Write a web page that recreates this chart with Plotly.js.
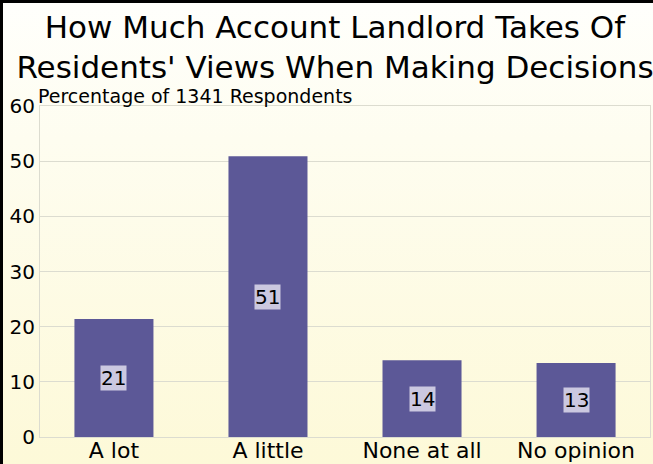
<!DOCTYPE html>
<html>
<head>
<meta charset="utf-8">
<script src="https://cdn.plot.ly/plotly-3.0.1.min.js"></script>
<style>
  html, body { margin: 0; padding: 0; }
  #wrap { position: relative; width: 653px; height: 464px; overflow: hidden;
          background: linear-gradient(to bottom, #fffffc 0%, #fefdf0 30%, #fdf9d8 100%); }
  #chart { position: absolute; left: 0; top: 0; width: 653px; height: 464px; }
  .bl { position: absolute; left: 0; top: 0; width: 3px; height: 464px; background: #000; }
  .bt { position: absolute; left: 0; top: 0; width: 653px; height: 3px; background: #000; }
</style>
</head>
<body>
<div id="wrap">
  <div id="chart"></div>
  <div class="bl"></div>
  <div class="bt"></div>
</div>
<script>
const categories = ["A lot", "A little", "None at all", "No opinion"];
const values = [21.4, 50.9, 13.9, 13.4];
const valueLabels = ["21", "51", "14", "13"];
const yTicks = [0, 10, 20, 30, 40, 50, 60];
const titleText = "How Much Account Landlord Takes Of<br>Residents' Views When Making Decisions";
const yLabel = "Percentage of 1341 Respondents";

const FONT = "DejaVu Sans, sans-serif";

const trace = {
  type: "bar",
  x: categories,
  y: values,
  marker: { color: "#5c5897", line: { width: 0 } },
  hoverinfo: "skip"
};

const annotations = categories.map((c, i) => ({
  x: c, y: values[i] / 2, xref: "x", yref: "y",
  text: valueLabels[i], showarrow: false,
  font: { family: FONT, size: 20, color: "#000" },
  bgcolor: "#cbc8e0", borderpad: 0
}));
annotations.push({
  x: 0, y: 1, xref: "paper", yref: "paper", xanchor: "left", yanchor: "bottom",
  xshift: -4, yshift: -3,
  text: yLabel, showarrow: false,
  font: { family: FONT, size: 19, color: "#000" }
});

const layout = {
  width: 653, height: 464,
  margin: { l: 40, r: 3, t: 106, b: 27, pad: 0 },
  paper_bgcolor: "rgba(0,0,0,0)",
  plot_bgcolor: "rgba(0,0,0,0)",
  showlegend: false,
  bargap: 0.487,
  title: {
    text: titleText,
    font: { family: FONT, size: 31, color: "#000" },
    x: 0.513, xref: "container", xanchor: "center",
    y: 0.918, yref: "container", yanchor: "top"
  },
  xaxis: {
    type: "category",
    range: [-0.48, 3.48],
    tickfont: { family: FONT, size: 22, color: "#000" },
    showgrid: false, zeroline: false,
    showline: true, linecolor: "#dcdcd0", linewidth: 1, mirror: true,
    ticks: "", ticklabelstandoff: -6, fixedrange: true
  },
  yaxis: {
    range: [0, 60],
    tickvals: yTicks,
    ticktext: yTicks.map(String),
    tickfont: { family: FONT, size: 20, color: "#000" },
    showgrid: true, gridcolor: "#dcdcd0", gridwidth: 1,
    zeroline: false,
    showline: true, linecolor: "#dcdcd0", linewidth: 1, mirror: true,
    ticks: "", ticklabelstandoff: 0, fixedrange: true
  },
  annotations: annotations
};

Plotly.newPlot("chart", [trace], layout, { displayModeBar: false, staticPlot: true });
</script>
</body>
</html>
